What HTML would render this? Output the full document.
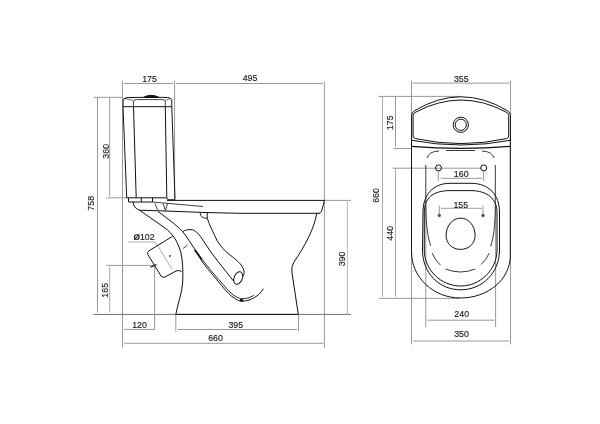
<!DOCTYPE html>
<html>
<head>
<meta charset="utf-8">
<style>
html,body{margin:0;padding:0;background:#fff;}
body{width:600px;height:424px;overflow:hidden;}
svg{display:block;}
text{font-family:"Liberation Sans",sans-serif;font-size:8.8px;fill:#1a1a1a;stroke:#1a1a1a;stroke-width:0.15;}
svg{will-change:transform;}
.d{stroke:#999;stroke-width:1;fill:none;}
.o{stroke:#111;stroke-width:1;fill:none;}
.t{stroke:#111;stroke-width:0.8;fill:none;}
.h{stroke:#999;stroke-width:1;fill:none;stroke-dasharray:11 3;}
</style>
</head>
<body>
<svg width="600" height="424" viewBox="0 0 600 424">
<rect width="600" height="424" fill="#fff"/>

<!-- ================= LEFT (side view) ================= -->
<g class="d">
  <!-- top dims 175 / 495 -->
  <path d="M124,83.5H173.3M176,83.5H322.9"/>
  <path d="M122.5,81V347.5"/>
  <path d="M174.6,81.2V199"/>
  <path d="M324.4,81.6V348"/>
  <!-- left dims -->
  <path d="M94,97.3H123"/>
  <path d="M97.5,97.3V312.5"/>
  <path d="M109.7,97.3V196"/>
  <path d="M106.5,197.8H127"/>
  <path d="M106.5,265.4H154.6"/>
  <path d="M109.7,267V312.5" stroke="#aaa"/>
  <!-- floor -->
  <path d="M93.3,314.4H351" stroke="#707070"/>
  <!-- 120 -->
  <path d="M154.6,265.4V329.7"/>
  <path d="M124.2,329.4H154.6"/>
  <!-- 395 -->
  <path d="M175.8,314V331.5"/>
  <path d="M298.5,314V331.5"/>
  <path d="M177.9,329.5H297"/>
  <!-- 660 -->
  <path d="M124.2,343.3H323.5"/>
  <!-- 390 -->
  <path d="M324.5,200.4H351"/>
  <path d="M347.4,200.4V314" stroke="#bbb"/>
  <!-- Ø102 leader -->
  <path d="M128,242H155.3L172,269.3" stroke-width="0.8"/>
</g>

<!-- tank -->
<g class="o">
  <path d="M123,106.7V101Q123,97.9 127,97.6L143.5,97.3L159,97.3L167.5,97.5Q171.7,97.8 171.8,101V106.7Z"/>
  <path d="M143.3,97.5Q151,93.2 159.2,97.5Z" fill="#111"/>
  <path d="M133.5,106.7V101.8Q133.5,99.6 136.5,99.6H162.8Q165.3,99.6 165.3,101.8V106.7" stroke-width="0.8"/>
  <path d="M124,98.4L133.5,100.4M165.3,100.4L171,98.4" stroke-width="0.6"/>
  <path d="M123,106.7L126.7,197.8"/>
  <path d="M133.5,106.7L136.2,197.8"/>
  <path d="M165.3,106.7L166.8,197.8"/>
  <path d="M171.8,106.7L175,199.5"/>
  <path d="M126.7,197.8H166.8L168,199.8H175"/>
  <!-- base plate -->
  <path d="M128.5,197.8V202H152.5V197.8M141.3,197.8V202"/>
  <path d="M152.5,202L203,206.5" stroke-width="0.8"/>
  <path d="M155,203.5L157.5,210M163,203.5L165.5,210.5L167.5,203.5" stroke-width="0.8"/>
</g>

<!-- bowl -->
<g class="o">
  <!-- rim top -->
  <path d="M167,200.4H324.5L321.6,211.2Q320.8,213.3 318.5,213.3"/>
  <!-- rim bottom -->
  <path d="M139.5,210.2L165,211L205,212.5L240,213.3H319.5"/>
  <!-- rim hole -->
  <path d="M200.2,212.8C200.4,216.8 203,218.3 207.2,218.2M207.2,213V218.2"/>
  <!-- back outer -->
  <path d="M316.7,213.3C314.5,228 305,246 294,262Q290.8,267 292,273L298.3,314.4"/>
  <!-- floor base black -->
  <path d="M175.8,314.4H298.3"/>
  <!-- front outer -->
  <path d="M133,202C133.5,206.5 135.5,208.5 139.5,210.2L165,228C172.5,233.5 177.5,241 180.8,252C182.8,261 183.2,272 182.7,282C182.2,292 178,303 175.8,314.4"/>
  <!-- trap lower line -->
  <path d="M158,211.5L168,219C174,223.5 179,227.5 182.5,231.5C185,234.5 187,237.5 189,240.5L196,251C198.5,255 200.5,258.5 202.4,262C205.5,266.5 209,270.5 212.3,274.3C215.5,278 218.5,282 221.7,285.6C224,288.5 226,291 228.3,293.1C230,295 232,296.6 234,297.8C236,299.3 238,300.5 240,301C242.5,301.5 246,301 249,300C253,298.7 256.5,296.5 259.3,294C261,292.3 262.3,290.5 263.3,288.7"/>
  <!-- trap inner parallel -->
  <path d="M195.5,250.4C198.5,254.5 201.5,258.5 204.2,262C207.5,266.5 211,270.5 214.2,274.3C217.5,278 220.5,281.5 223.5,285C226,288 228.5,290.8 231.1,293.1C233.5,295.3 236.5,297.3 239.6,298.3C244,299.5 249.5,298 254,295.3" stroke-width="0.9"/>
  <path d="M194.8,250L201.5,259.2" stroke-width="1.8"/>
  <!-- hook / tube lower -->
  <path d="M182.8,231.6C185,230 187.5,229.6 190,229.6C192,229.6 193.5,230 194.8,230.8C197,232.3 199,234.3 200.4,236.4L210.9,252L217.9,261.3L233.5,281"/>
  <!-- back inner line -->
  <path d="M207.2,218.2C209.5,225 213,232 217,240.5C221,246.5 224.5,251 230,255C236,259.5 241,263.5 243.2,268.5C244.5,271.5 244.3,274 243.3,276"/>
  <!-- tube end ellipse -->
  <ellipse cx="238.2" cy="278" rx="4.1" ry="6.6" transform="rotate(22 238.2 278)"/>
  <!-- outlet pipe -->
  <path d="M172.6,236.3L149,250.8Q146.5,252.5 148,254.8L161,276Q162.7,278.2 165,277L176,271Q179,269.8 181.5,271.5"/>
</g>
<g class="t">
  <path d="M183.2,248.4L187.6,245.2"/>
  <path d="M150.4,267.3L156.5,264.5" stroke-width="1.2"/>
  <circle cx="170" cy="256" r="0.6"/>
  <ellipse cx="241.5" cy="300.3" rx="1.6" ry="1" fill="#111"/>
</g>

<!-- left texts -->
<text x="149.5" y="82" text-anchor="middle">175</text>
<text x="250" y="81" text-anchor="middle">495</text>
<text x="139.9" y="239.7">102</text>
<circle cx="136.8" cy="237" r="2.3" fill="none" stroke="#1a1a1a" stroke-width="1.1"/>
<path d="M134.2,240L139.4,234" stroke="#1a1a1a" stroke-width="1"/>
<text x="139.5" y="327.7" text-anchor="middle">120</text>
<text x="235.8" y="328" text-anchor="middle">395</text>
<text x="215.5" y="340.8" text-anchor="middle">660</text>
<text transform="translate(93.6 203.3) rotate(-90)" text-anchor="middle">758</text>
<text transform="translate(108.7 151.3) rotate(-90)" text-anchor="middle">360</text>
<text transform="translate(108.3 290.3) rotate(-90)" text-anchor="middle">165</text>
<text transform="translate(345.3 259) rotate(-90)" text-anchor="middle">390</text>

<!-- ================= RIGHT (top view) ================= -->
<g class="d">
  <path d="M413.1,83.1H509.1"/>
  <path d="M411.5,80.8V344.4"/>
  <path d="M510.5,80.8V344.4"/>
  <path d="M378.3,96.4H460"/>
  <path d="M382.5,96.4V296.7" stroke="#aaa"/>
  <path d="M395.5,96.4V146.5"/>
  <path d="M393.3,148.5H411.5"/>
  <path d="M392.5,168.2H481"/>
  <path d="M395.5,168.2V296.7" stroke="#aaa"/>
  <path d="M379.2,298.4H460"/>
  <path d="M438.3,170.5V181"/>
  <path d="M483.7,170.5V181"/>
  <path d="M440.5,178.3H482.5"/>
  <path d="M439.3,205.5V215"/>
  <path d="M483,205.5V215"/>
  <path d="M441,208.3H482"/>
  <path d="M425.8,205V327"/>
  <path d="M495.6,205V327"/>
  <path d="M427.4,320.2H494.4"/>
  <path d="M413,341H509"/>
</g>

<g class="o">
  <!-- tank outer -->
  <path d="M411.6,140.3V115.3Q411.6,112.3 414.6,110.7Q461,82.84 507.4,110.7Q510.4,112.3 510.4,115.3V140.3Q461,149.7 411.6,140.3Z"/>
  <!-- tank inner -->
  <path d="M413.1,136V115.5Q413.1,113 416,112Q461,88.07 506,112Q508.7,113 508.7,115.5V136Q508.7,138 506.5,138.6Q461,148.6 415.5,138.6Q413.1,138 413.1,136Z"/>
  <circle cx="460.8" cy="124.8" r="7.6"/>
  <circle cx="460.8" cy="124.8" r="5.6"/>
  <path d="M411.5,146.3Q461,150.4 510.5,146.3" stroke-width="1.2"/>
  <!-- bowl outer -->
  <path d="M411.5,138V252C411.5,277.4 433.4,298 460.5,298C488,298 510.3,279.2 510.3,256V138"/>
  <!-- seat outer -->
  <path d="M423,212C423,195 433,183.3 450,183.3H471C489,183.3 499.5,195 499.5,212V250C499.5,273 482,289.8 460.8,289.8C439,289.8 422.5,273 422.5,250Z"/>
  <!-- seat inner -->
  <path d="M424.3,212C424.3,199 432,190.6 450,190.6H471C487,190.6 497,199 497,212V250C497,270 480,286 460.8,286C441,286 424.3,270 424.3,250Z"/>
  <!-- egg -->
  <path d="M460.6,218.1C468.8,218.1 475.1,226 475.1,235.5C475.1,243.8 468.6,249.4 460.6,249.4C452.6,249.4 446.1,243.8 446.1,235.5C446.1,226 452.4,218.1 460.6,218.1Z"/>
  <!-- holes -->
  <circle cx="438.5" cy="167.9" r="3"/>
  <circle cx="483.7" cy="167.9" r="3"/>
  <circle cx="439.3" cy="215.5" r="1.3" fill="#555" stroke="#333" stroke-width="0.6"/>
  <circle cx="483" cy="215.5" r="1.3" fill="#555" stroke="#333" stroke-width="0.6"/>
</g>
<!-- dashed bowl opening -->
<g stroke="#222" stroke-width="0.9" fill="none">
<path d="M427,158Q429,151.3 439,151"/>
<path d="M446,150.5H475"/>
<path d="M482,151Q492,151.3 494,158"/>
<path d="M425.8,165V205C425.8,225 428,238 430.7,245.7"/>
<path d="M432.2,253.2Q435.2,260.5 440.5,265.2"/>
<path d="M445.7,269Q460.5,275 475.3,269"/>
<path d="M481,264.5Q486.3,260 489.2,253.2"/>
<path d="M495.3,165V205C495.3,225 493.5,238 490.7,246.5"/>
</g>

<!-- right texts -->
<text x="461.3" y="81.7" text-anchor="middle">355</text>
<text x="461.2" y="176.7" text-anchor="middle">160</text>
<text x="460.8" y="208" text-anchor="middle">155</text>
<text x="461.7" y="316.5" text-anchor="middle">240</text>
<text x="461.5" y="337" text-anchor="middle">350</text>
<text transform="translate(393.3 122.7) rotate(-90)" text-anchor="middle">175</text>
<text transform="translate(379.2 195.5) rotate(-90)" text-anchor="middle">660</text>
<text transform="translate(392.7 233.3) rotate(-90)" text-anchor="middle">440</text>
</svg>
</body>
</html>
